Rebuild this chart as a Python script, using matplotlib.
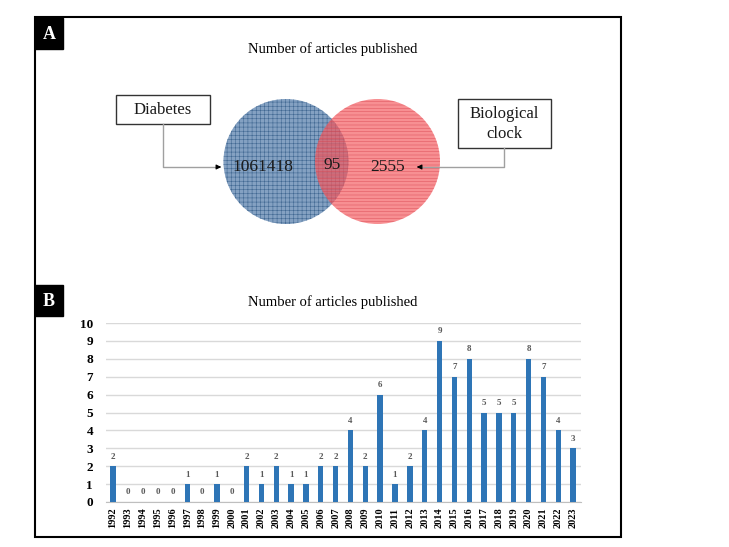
import matplotlib
matplotlib.use("Agg")
import matplotlib.pyplot as plt
from matplotlib.patches import Rectangle, Circle

plt.rcParams['font.family'] = ['Liberation Serif', 'DejaVu Serif']
plt.rcParams['hatch.linewidth'] = 0.4

# panel A: Venn counts
venn_labels = ['Diabetes', 'Biological\nclock']
only_diabetes = 1061418
overlap = 95
only_clock = 2555

# panel B: articles per year
years = list(range(1992, 2024))
counts = [2, 0, 0, 0, 0, 1, 0, 1, 0, 2, 1, 2, 1, 1, 2, 2, 4, 2, 6, 1,
          2, 4, 9, 7, 8, 5, 5, 5, 8, 7, 4, 3]

W, H = 729, 547
fig = plt.figure(figsize=(W / 100, H / 100), dpi=100)

# overlay axes in pixel units (y down) for frame and Venn diagram
ov = fig.add_axes([0, 0, 1, 1])
ov.set_xlim(0, W)
ov.set_ylim(H, 0)
ov.axis('off')

ov.add_patch(Rectangle((35, 17), 586, 520, fill=False, ec='black', lw=1.5))

# panel tags
for tag, y0, h in [('A', 18, 31), ('B', 285, 31)]:
    ov.add_patch(Rectangle((35, y0), 28, h, color='black'))
    ov.text(49, y0 + h / 2 + 1, tag, color='white', fontsize=13,
            fontweight='bold', ha='center', va='center')

ov.text(333, 49, 'Number of articles published', fontsize=10.5,
        ha='center', va='center')

# Venn circles
r = 62.5
cy = 161.5
blue_c, red_c = (286, cy), (377.5, cy)
ov.add_patch(Circle(blue_c, r, fc='#84A1C2', ec='none'))
ov.add_patch(Circle(blue_c, r, fc='none', ec='#416892', lw=0, hatch='++++'))
ov.add_patch(Circle(red_c, r, fc='#F45A5E', ec='none', alpha=0.68))
ov.add_patch(Circle(red_c, r, fc='none', ec='#D8404C', lw=0, hatch='-----', alpha=0.7))

ov.text(263, 167, f'{only_diabetes}', fontsize=12.5, ha='center', va='center', color='#1a1a1a')
ov.text(332, 165, f'{overlap}', fontsize=12.5, ha='center', va='center', color='#1a1a1a')
ov.text(388, 167, f'{only_clock}', fontsize=12.5, ha='center', va='center', color='#1a1a1a')

# label boxes
ov.add_patch(Rectangle((116, 95), 94, 29, fc='white', ec='#333333', lw=1))
ov.text(163, 110, venn_labels[0], fontsize=12, ha='center', va='center', color='#1a1a1a')
ov.add_patch(Rectangle((458, 99), 93, 49, fc='white', ec='#333333', lw=1))
ov.text(504.5, 124, venn_labels[1], fontsize=12, ha='center', va='center',
        color='#1a1a1a', linespacing=1.25)

# connector arrows
ov.plot([163, 163, 218], [124, 167, 167], color='#a0a0a0', lw=1)
ov.annotate('', xy=(224, 167), xytext=(216, 167),
            arrowprops=dict(arrowstyle='-|>', color='black', lw=0.8, mutation_scale=7))
ov.plot([504, 504, 420], [148, 167, 167], color='#a0a0a0', lw=1)
ov.annotate('', xy=(414, 167), xytext=(422, 167),
            arrowprops=dict(arrowstyle='-|>', color='black', lw=0.8, mutation_scale=7))

ov.text(333, 302, 'Number of articles published', fontsize=10.5,
        ha='center', va='center')

# panel B: bar chart
left, right = 105.6, 580.5
bottom_px, top_px = 502, 323
ax = fig.add_axes([left / W, 1 - bottom_px / H, (right - left) / W, (bottom_px - top_px) / H])
x = list(range(len(years)))
bars = ax.bar(x, counts, width=0.36, color='#2E75B6', zorder=3)
ax.bar_label(bars, padding=4, fontsize=6.5, fontweight='bold', color='#595959')
ax.set_xlim(-0.5, len(years) - 0.5)
ax.set_ylim(0, 10)
ax.set_yticks(range(0, 11))
ax.set_yticklabels([str(v) for v in range(0, 11)], fontsize=9.5, fontweight='bold')
ax.set_xticks(x)
ax.set_xticklabels([str(y) for y in years], rotation=90, fontsize=7.5, fontweight='bold')
ax.tick_params(axis='both', length=0)
ax.tick_params(axis='y', pad=9)
ax.tick_params(axis='x', pad=4)
ax.grid(axis='y', color='#d9d9d9', lw=1, zorder=0)
for side in ['top', 'right', 'left']:
    ax.spines[side].set_visible(False)
ax.spines['bottom'].set_color('#bfbfbf')
ax.patch.set_alpha(0)

fig.savefig('out.png', dpi=100)
